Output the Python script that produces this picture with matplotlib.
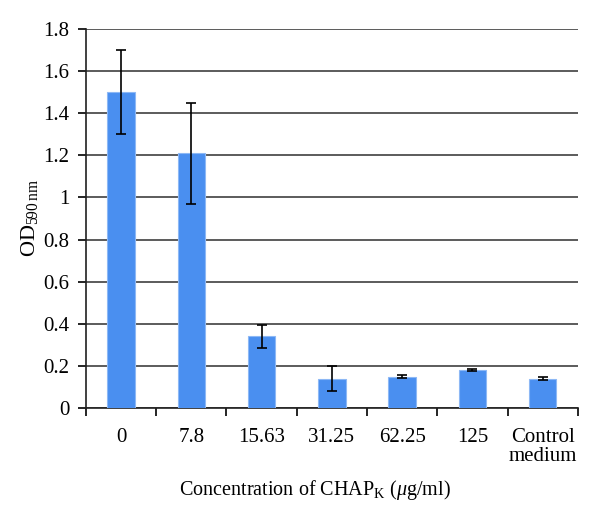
import matplotlib.pyplot as plt
import numpy as np

plt.rcParams.update({
    "font.family": ["Liberation Serif", "DejaVu Serif"],
    "mathtext.fontset": "custom",
    "mathtext.rm": "Liberation Serif",
    "mathtext.it": "Liberation Serif:italic",
    "font.size": 15,
})

CATEGORIES = ["0", "7.8", "15.63", "31.25", "62.25", "125", "Control\nmedium"]
OD_MEAN = [1.50, 1.21, 0.34, 0.14, 0.15, 0.18, 0.14]
OD_ERR = [0.20, 0.24, 0.055, 0.06, 0.006, 0.006, 0.006]

BAR_COLOR = "#4A8FF0"

fig = plt.figure(figsize=(6.0, 5.14), dpi=100)
ax = fig.add_axes([0.143, 0.206, 0.82, 0.738])

x = np.arange(len(CATEGORIES))
ax.bar(x, OD_MEAN, width=0.39, color=BAR_COLOR, edgecolor="#8DB8F5", linewidth=0.8, zorder=3)
ax.errorbar(x, OD_MEAN, yerr=OD_ERR, fmt="none", ecolor="black", elinewidth=1.2,
            capsize=3.5, capthick=1.2, zorder=4)

ax.set_xlim(-0.5, len(CATEGORIES) - 0.5)
ax.set_ylim(0, 1.8)
yt = np.arange(0, 1.81, 0.2)
ax.set_yticks(yt)
ax.set_yticklabels(["0", "0.2", "0.4", "0.6", "0.8", "1", "1.2", "1.4", "1.6", "1.8"])
ax.yaxis.grid(True, color="#404040", linewidth=1.2, zorder=0)
ax.set_axisbelow(True)

# category labels centred, ticks on boundaries
ax.set_xticks(x)
ax.set_xticklabels(CATEGORIES, linespacing=1.0)
ax.tick_params(axis="x", length=0, pad=14)
ax.set_xticks(np.arange(-0.5, len(CATEGORIES)), minor=True)
ax.tick_params(axis="x", which="minor", length=6, width=1.2, direction="out")
ax.tick_params(axis="y", length=6, width=1.2, direction="out", pad=6)

for s in ["top", "right"]:
    ax.spines[s].set_visible(False)
for s in ["left", "bottom"]:
    ax.spines[s].set_linewidth(1.2)
    ax.spines[s].set_color("#202020")

ax.set_ylabel(r"OD$_{590\,\mathrm{nm}}$", fontsize=16, labelpad=2)
ax.set_xlabel(r"Concentration of CHAP$_\mathrm{K}$ ($\mu$g/ml)", fontsize=14.5, labelpad=5)
ax.xaxis.set_label_coords(0.465, -0.185)

fig.savefig("out.png", dpi=100)
